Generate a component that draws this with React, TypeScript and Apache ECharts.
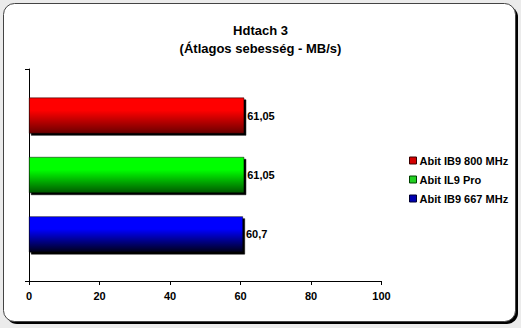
import React, { useEffect, useRef } from "react";
import * as echarts from "echarts";

const titleLines = ["Hdtach 3", "(Átlagos sebesség - MB/s)"];
const categories = [""];
const seriesNames = ["Abit IB9 800 MHz", "Abit IL9 Pro", "Abit IB9 667 MHz"];
const seriesValues = [61.05, 61.05, 60.7];
const xTicks = { min: 0, max: 100, interval: 20 };

const FONT = "'Liberation Sans', Arial, sans-serif";
const barColors = [
  ["#ff0000", "#6a0000"],
  ["#00ff00", "#005800"],
  ["#0000ff", "#000018"],
];
const legendColors = [
  ["#d40000", "#3a0000"],
  ["#22d022", "#004000"],
  ["#0000b0", "#000030"],
];

export default function App() {
  const ref = useRef<HTMLDivElement>(null);
  useEffect(() => {
    if (!ref.current) return;
    const chart = echarts.init(ref.current, null, { renderer: "svg" });
    chart.setOption({
      animation: false,
      backgroundColor: "transparent",
      title: {
        text: titleLines.join("\n"),
        left: "center",
        top: 16,
        textStyle: { fontFamily: FONT, fontSize: 13, fontWeight: "bold", color: "#000", lineHeight: 18 },
      },
      graphic: [
        { type: "rect", z: -10, silent: true, shape: { x: 6, y: 6, width: 512, height: 318, r: 11 }, style: { fill: "#000" } },
        { type: "rect", z: -9, silent: true, shape: { x: 3.5, y: 3.5, width: 512, height: 318, r: 11 }, style: { fill: "#fff", stroke: "#444", lineWidth: 1 } },
      ],
      legend: {
        orient: "vertical",
        left: 404,
        top: 149,
        itemWidth: 7,
        itemHeight: 7,
        itemGap: 6,
        icon: "rect",
        textStyle: { fontFamily: FONT, fontSize: 11, fontWeight: "bold", color: "#000", lineHeight: 13, padding: [0, 0, 0, -2] },
        data: seriesNames.map((n, i) => ({
          name: n,
          itemStyle: { color: legendColors[i][0], borderColor: legendColors[i][1], borderWidth: 1, shadowColor: "transparent", shadowOffsetX: 0, shadowOffsetY: 0 },
        })),
      },
      grid: { left: 29, right: 139.5, top: 69, bottom: 47 },
      xAxis: {
        type: "value",
        min: xTicks.min,
        max: xTicks.max,
        interval: xTicks.interval,
        axisLine: { show: true, lineStyle: { color: "#000", width: 1 } },
        axisTick: { show: true, inside: false, length: 4, lineStyle: { color: "#000" } },
        axisLabel: { fontFamily: FONT, fontSize: 11, fontWeight: "bold", color: "#000", margin: 9 },
        splitLine: { show: false },
      },
      yAxis: {
        type: "category",
        data: categories,
        axisLine: { show: true, lineStyle: { color: "#000", width: 1 } },
        axisTick: { show: true, length: 4, lineStyle: { color: "#000" } },
        axisLabel: { show: false },
      },
      series: seriesNames.map((name, i) => ({
        type: "bar",
        name,
        data: [seriesValues[i]],
        barWidth: 36,
        barGap: "65%",
        itemStyle: {
          color: new echarts.graphic.LinearGradient(0, 0, 0, 1, [
            { offset: 0, color: barColors[i][0] },
            { offset: 0.35, color: barColors[i][0] },
            { offset: 1, color: barColors[i][1] },
          ]),
          borderColor: "#000",
          borderWidth: 0.5,
          shadowColor: "#000",
          shadowBlur: 0,
          shadowOffsetX: 2,
          shadowOffsetY: 2,
        },
        label: {
          show: true,
          position: "right",
          distance: 3,
          fontFamily: FONT,
          fontSize: 11,
          fontWeight: "bold",
          color: "#000",
          formatter: (p: any) => String(p.value).replace(".", ","),
        },
      })),
    });
    return () => chart.dispose();
  }, []);
  return (
    <div style={{ position: "fixed", left: 0, top: 0, width: 521, height: 328, background: "#ebebeb" }}>
      <div ref={ref} style={{ width: 521, height: 328 }} />
    </div>
  );
}
